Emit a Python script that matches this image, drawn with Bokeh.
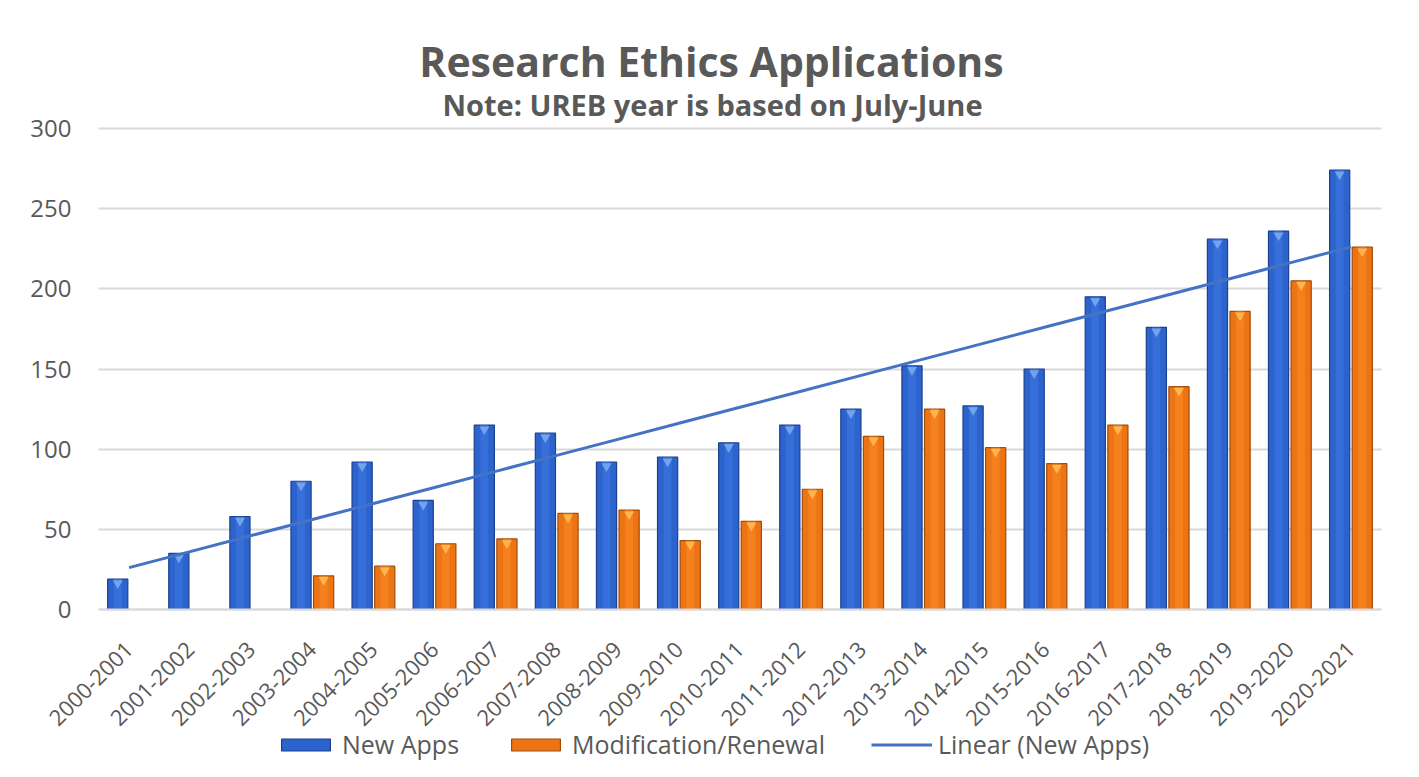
import numpy as np
from bokeh.plotting import figure
from bokeh.models import (ColumnDataSource, Label, Legend, LegendItem,
                          FixedTicker, Range1d, Grid)
from bokeh.embed import file_html
from bokeh.resources import INLINE

# ---------------- data ----------------
years = ["2000-2001", "2001-2002", "2002-2003", "2003-2004", "2004-2005", "2005-2006",
         "2006-2007", "2007-2008", "2008-2009", "2009-2010", "2010-2011", "2011-2012",
         "2012-2013", "2013-2014", "2014-2015", "2015-2016", "2016-2017", "2017-2018",
         "2018-2019", "2019-2020", "2020-2021"]
new_apps = [19, 35, 58, 80, 92, 68, 115, 110, 92, 95, 104, 115,
            125, 152, 127, 150, 195, 176, 231, 236, 274]
mod_renewal = [None, None, None, 21, 27, 41, 44, 60, 62, 43, 55, 75,
               108, 125, 101, 91, 115, 139, 186, 205, 226]
y_ticks = [0, 50, 100, 150, 200, 250, 300]

title_text = "Research Ethics Applications"
subtitle_text = "Note: UREB year is based on July-June"
series_names = ["New Apps", "Modification/Renewal", "Linear (New Apps)"]

# ------------- derived -------------
idx = np.arange(len(years), dtype=float)
coef = np.polyfit(idx, np.array(new_apps, dtype=float), 1)
trend = np.polyval(coef, idx)

OFF = 0.185
src = ColumnDataSource(dict(
    x=idx,
    xn=idx - OFF,
    xm=idx + OFF,
    new=np.array(new_apps, dtype=float),
    mod=np.array(mod_renewal, dtype=float),
    trend=trend,
))

TEXT = "#595959"
FONT = "Open Sans"

W, H = 1411, 769
# layout: the frame spans the whole canvas so that the titles and the legend are not
# clipped; the category axis 0..N-1 and value axis 0..300 are mapped to the pixel
# area of the reference chart (x: 98..1381, y: 128..609)
n = len(years)
px_per_cat = (1381 - 98) / n
x_left = -0.5 - 98 / px_per_cat
x_right = x_left + W / px_per_cat
px_per_unit = (609 - 128) / 300.0
y_top = 300 + 128 / px_per_unit
y_bot = -(H - 609) / px_per_unit

p = figure(width=W, height=H, x_range=Range1d(x_left, x_right),
           y_range=Range1d(y_bot, y_top),
           output_backend="svg", toolbar_location=None, tools="",
           min_border_left=0, min_border_right=0, min_border_top=0,
           min_border_bottom=0)
p.title = None
p.outline_line_color = None
p.background_fill_color = "white"
p.border_fill_color = "white"

BW = 0.33
# New Apps bars
r_new = p.vbar(x="xn", top="new", bottom=0, width=BW, source=src,
               fill_color="#2c63cc", line_color="#1c418e", line_width=1.2)
p.vbar(x="xn", top="new", bottom=0, width=0.13, source=src,
       fill_color="#3a75e0", fill_alpha=0.7, line_color=None)
cap_new = ColumnDataSource(dict(x=src.data["xn"], y=src.data["new"] - 2.6))
p.scatter(x="x", y="y", source=cap_new, marker="inverted_triangle", size=10,
          fill_color="#74a3ee", line_color=None)

# Modification / Renewal bars
r_mod = p.vbar(x="xm", top="mod", bottom=0, width=BW, source=src,
               fill_color="#ec7414", line_color="#a04c0a", line_width=1.2)
p.vbar(x="xm", top="mod", bottom=0, width=0.13, source=src,
       fill_color="#fa8622", fill_alpha=0.7, line_color=None)
cap_mod = ColumnDataSource(dict(x=src.data["xm"], y=src.data["mod"] - 2.6))
p.scatter(x="x", y="y", source=cap_mod, marker="inverted_triangle", size=10,
          fill_color="#ffb650", line_color=None)

# Linear trend
r_trend = p.line(x="x", y="trend", source=src, line_color="#4472c4", line_width=3)

# value axis + grid
p.xgrid.grid_line_color = None
p.yaxis.ticker = FixedTicker(ticks=y_ticks)
p.yaxis.fixed_location = -0.5
p.yaxis.bounds = (0, 300)
p.yaxis.axis_line_color = None
p.yaxis.major_tick_line_color = None
p.yaxis.minor_tick_line_color = None
p.yaxis.major_label_text_font = FONT
p.yaxis.major_label_text_font_size = "24px"
p.yaxis.major_label_text_color = TEXT
p.yaxis.major_label_standoff = 21

grid_ok = "cross_bounds" in Grid.properties()
if grid_ok:
    p.ygrid.cross_bounds = (-0.5, n - 0.5)
    p.ygrid.grid_line_color = "#d9d9d9"
    p.ygrid.grid_line_width = 2
else:
    p.ygrid.grid_line_color = None
    gsrc = ColumnDataSource(dict(y=[t for t in y_ticks if t > 0],
                                 x0=[-0.5] * (len(y_ticks) - 1),
                                 x1=[n - 0.5] * (len(y_ticks) - 1)))
    p.segment(x0="x0", x1="x1", y0="y", y1="y", source=gsrc,
              line_color="#d9d9d9", line_width=2)

# category axis
p.xaxis.ticker = FixedTicker(ticks=list(range(n)))
p.xaxis.major_label_overrides = {i: y for i, y in enumerate(years)}
p.xaxis.fixed_location = 0
p.xaxis.bounds = (-0.5, n - 0.5)
p.xaxis.axis_line_color = "#d9d9d9"
p.xaxis.axis_line_width = 2
p.xaxis.major_tick_line_color = None
p.xaxis.minor_tick_line_color = None
p.xaxis.major_label_orientation = np.pi / 4
p.xaxis.major_label_text_font = FONT
p.xaxis.major_label_text_font_size = "22px"
p.xaxis.major_label_text_color = TEXT
p.xaxis.major_label_standoff = 30

# titles (screen units from the frame's bottom-left corner)
p.add_layout(Label(x=711, y=H - 60, x_units="screen", y_units="screen", text=title_text,
                   text_align="center", text_baseline="middle", text_font=FONT,
                   text_font_style="bold", text_font_size="41px", text_color=TEXT))
p.add_layout(Label(x=712, y=H - 104, x_units="screen", y_units="screen", text=subtitle_text,
                   text_align="center", text_baseline="middle", text_font=FONT,
                   text_font_style="bold", text_font_size="29px", text_color=TEXT))

legend = Legend(items=[LegendItem(label=series_names[0], renderers=[r_new]),
                       LegendItem(label=series_names[1], renderers=[r_mod]),
                       LegendItem(label=series_names[2], renderers=[r_trend])],
                orientation="horizontal", location=(275, 8),
                glyph_width=61, glyph_height=15, spacing=46, label_standoff=6,
                padding=0, margin=0, border_line_color=None, background_fill_alpha=0,
                label_text_font=FONT, label_text_font_size="25px",
                label_text_color=TEXT)
p.add_layout(legend, "center")

open("out.html", "w").write(file_html(p, INLINE))
